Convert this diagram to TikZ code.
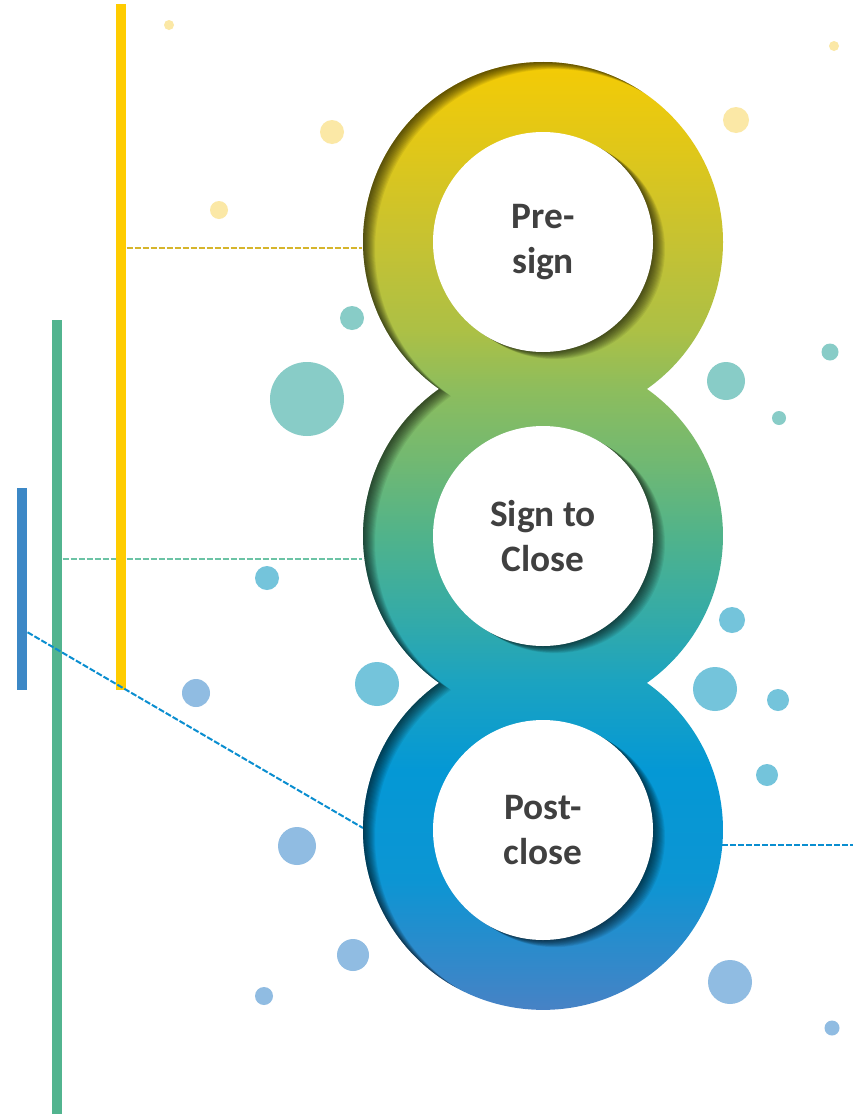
\documentclass[tikz,border=0pt]{standalone}
\usepackage{fontspec}
\setmainfont{Carlito}
\usepackage{xcolor}
\usepackage{tikz}
\usetikzlibrary{positioning, calc}
\definecolor{loopyellow}{HTML}{F4CB05}
\definecolor{loopolive}{HTML}{C6C232}
\definecolor{loopgreen}{HTML}{8DBD5D}
\definecolor{loopteal}{HTML}{50B38B}
\definecolor{loopcyan}{HTML}{1BA3C1}
\definecolor{loopblue}{HTML}{0498D5}
\definecolor{loopindigo}{HTML}{4782C5}
\definecolor{baryellow}{HTML}{FFCC00}
\definecolor{bargreen}{HTML}{52B48F}
\definecolor{barblue}{HTML}{3C88C6}
\definecolor{lineyellow}{HTML}{D6B52C}
\definecolor{linegreen}{HTML}{6CC3A5}
\definecolor{lineblue}{HTML}{0A8ED0}
\definecolor{dotyellow}{HTML}{FBE8A6}
\definecolor{dotteal}{HTML}{88CCC7}
\definecolor{dotcyan}{HTML}{74C4DB}
\definecolor{dotblue}{HTML}{90BCE2}
\definecolor{stagetext}{HTML}{404040}

\pgfdeclareverticalshading{loopshade}{100bp}{%
  color(0bp)=(loopindigo); color(25bp)=(loopindigo);
  color(31.86bp)=(loopblue!88!loopindigo); color(37.66bp)=(loopblue);
  color(42.25bp)=(loopcyan); color(45.57bp)=(loopcyan!55!loopteal);
  color(50bp)=(loopteal); color(54bp)=(loopteal!45!loopgreen);
  color(57.75bp)=(loopgreen); color(60.86bp)=(loopgreen!45!loopolive);
  color(65.51bp)=(loopolive); color(70.36bp)=(loopolive!45!loopyellow);
  color(75bp)=(loopyellow); color(100bp)=(loopyellow)}

% outline of the three joined rings, shifted by (#1,#2)
\newcommand{\eightpath}[2]{([shift={(-54.74:180)}]543+#1,-242-#2)
  arc[start angle=-54.74, end angle=234.74, radius=180]
  arc[start angle=125.26, end angle=234.74, radius=180]
  arc[start angle=125.26, end angle=414.74, radius=180]
  arc[start angle=-54.74, end angle=54.74, radius=180] -- cycle}

\begin{document}
\begin{tikzpicture}[x=0.75pt, y=0.75pt,
    stage/.style={circle, fill=white, minimum size=165pt, inner sep=0pt, align=center,
                  font=\fontsize{28}{34}\selectfont\bfseries, text=stagetext},
    bar/.style={rectangle, fill=#1, inner sep=0pt, minimum width=7.5pt, anchor=north west},
    link/.style={draw=#1, line width=1.5pt, dash pattern=on 4.5pt off 1.5pt}
]
\path[use as bounding box, fill=white] (0,0) rectangle (853,-1114);

\foreach \x/\y/\r in {169/25/5, 834/46/5, 332/132/12, 736/120/13, 219/210/9}
  \fill[dotyellow] (\x,-\y) circle[radius=\r];
\foreach \x/\y/\r in {352/318/12, 307/399/37, 726/381/19, 830/352/8.5, 779/418/7}
  \fill[dotteal] (\x,-\y) circle[radius=\r];
\foreach \x/\y/\r in {267/578/12, 732/620/13, 377/684/22, 715/689/22, 778/700/11, 767/775/11}
  \fill[dotcyan] (\x,-\y) circle[radius=\r];
\foreach \x/\y/\r in {196/693/14, 297/846/19, 353/955/16, 264/996/9, 730/982/22, 832/1028/7.5}
  \fill[dotblue] (\x,-\y) circle[radius=\r];

\node[bar=bargreen, minimum height=595.5pt] (gbar) at (52,-320) {};
\coordinate (signL) at (362,-559);
\draw[link=linegreen] (gbar.east |- signL) -- (signL);

\node[bar=baryellow, minimum height=514.5pt] (ybar) at (116,-4) {};
\coordinate (presignL) at (362,-248);
\draw[link=lineyellow] (ybar.east |- presignL) -- (presignL);

\node[bar=barblue, minimum height=151.5pt] (bbar) at (17,-488) {};
\coordinate (postL) at (363,-828);
\coordinate (postR) at (722,-845);
\coordinate (edgeR) at (853,-845);
\draw[link=lineblue] ([yshift=-32.25pt]bbar.east) -- (postL);
\draw[link=lineblue] (postR) -- (edgeR);

\begin{scope}
  \clip \eightpath{0}{0};
  \shade[shading=loopshade] (362,-62) rectangle (724,-1010);
  \foreach \k in {1,...,12} {
    \fill[black, opacity=0.065, even odd rule] (300,0) rectangle (800,-1114) \eightpath{\k}{0.6*\k};
    \foreach \cy in {242,536,830}
      \fill[black, opacity=0.065] (543+\k,-\cy-0.6*\k) circle[radius=110];
  }
\end{scope}

\node[stage] (presign) at (543,-242) {Pre-\\sign};
\node[stage] (signclose) at (543,-536) {Sign to\\Close};
\node[stage] (postclose) at (543,-830) {Post-\\close};
\end{tikzpicture}
\end{document}
